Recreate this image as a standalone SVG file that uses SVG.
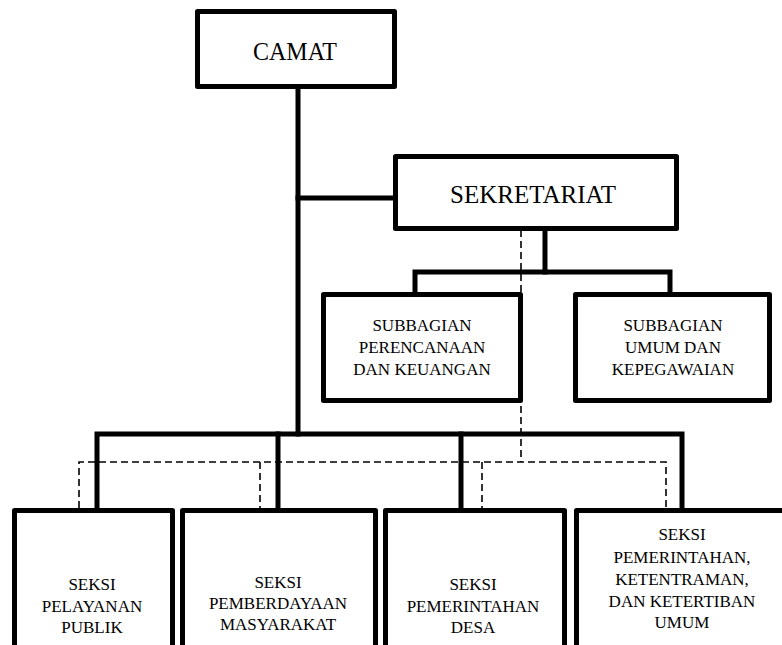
<svg xmlns="http://www.w3.org/2000/svg" width="782" height="645" viewBox="0 0 782 645">
<style>
.box{fill:#fff;stroke:#000;stroke-width:5;stroke-linejoin:round}
.solid{fill:none;stroke:#000;stroke-width:5;stroke-linejoin:miter;stroke-linecap:square}
.dash{fill:none;stroke:#000;stroke-width:1.6;stroke-dasharray:7 4}
text{font-family:"Liberation Serif","Times New Roman",serif;fill:#000;text-anchor:middle}
.big{font-size:26px}
.sm{font-size:17px}
</style>
<rect width="782" height="645" fill="#fff"/>
<g id="connectors">
<path class="solid" d="M298,89 V434"/>
<path class="solid" d="M298,198 H394"/>
<path class="solid" d="M545,230 V272"/>
<path class="solid" d="M415,292 V272 H670 V292"/>
<path class="solid" d="M97,508 V434 H682 V508"/>
<path class="solid" d="M278,434 V508"/>
<path class="solid" d="M461,434 V508"/>
<path class="dash" d="M521,230 V462"/>
<path class="dash" d="M79,508 V462 H666 V508"/>
<path class="dash" d="M260,462 V508"/>
<path class="dash" d="M482,462 V508"/>
</g>
<g id="camat">
<rect class="box" x="197.5" y="11.5" width="197" height="75"/>
<text class="big" x="295" y="60" font-size="28" textLength="84" lengthAdjust="spacingAndGlyphs">CAMAT</text>
</g>
<g id="sekretariat">
<rect class="box" x="395.5" y="156.5" width="281" height="72"/>
<text class="big" x="533" y="203" textLength="166" lengthAdjust="spacingAndGlyphs">SEKRETARIAT</text>
</g>
<g id="subbagian-perencanaan">
<rect class="box" x="323.5" y="294.5" width="197" height="106"/>
<text class="sm" x="422" y="331">SUBBAGIAN</text>
<text class="sm" x="422" y="353">PERENCANAAN</text>
<text class="sm" x="422" y="375">DAN KEUANGAN</text>
</g>
<g id="subbagian-umum">
<rect class="box" x="575.5" y="294.5" width="194" height="106"/>
<text class="sm" x="673" y="331">SUBBAGIAN</text>
<text class="sm" x="673" y="353">UMUM DAN</text>
<text class="sm" x="673" y="375">KEPEGAWAIAN</text>
</g>
<g id="seksi-pelayanan">
<rect class="box" x="14.5" y="510.5" width="158" height="150"/>
<text class="sm" x="92" y="590">SEKSI</text>
<text class="sm" x="92" y="612">PELAYANAN</text>
<text class="sm" x="92" y="633">PUBLIK</text>
</g>
<g id="seksi-pemberdayaan">
<rect class="box" x="182.5" y="510.5" width="193" height="150"/>
<text class="sm" x="278" y="588">SEKSI</text>
<text class="sm" x="278" y="609">PEMBERDAYAAN</text>
<text class="sm" x="278" y="630">MASYARAKAT</text>
</g>
<g id="seksi-pemerintahan-desa">
<rect class="box" x="385.5" y="510.5" width="179" height="150"/>
<text class="sm" x="473" y="590">SEKSI</text>
<text class="sm" x="473" y="612">PEMERINTAHAN</text>
<text class="sm" x="473" y="633">DESA</text>
</g>
<g id="seksi-ketentraman">
<rect class="box" x="576.5" y="510.5" width="220" height="150"/>
<text class="sm" x="682" y="540">SEKSI</text>
<text class="sm" x="682" y="563">PEMERINTAHAN,</text>
<text class="sm" x="682" y="585">KETENTRAMAN,</text>
<text class="sm" x="682" y="607">DAN KETERTIBAN</text>
<text class="sm" x="682" y="628">UMUM</text>
</g>
</svg>
